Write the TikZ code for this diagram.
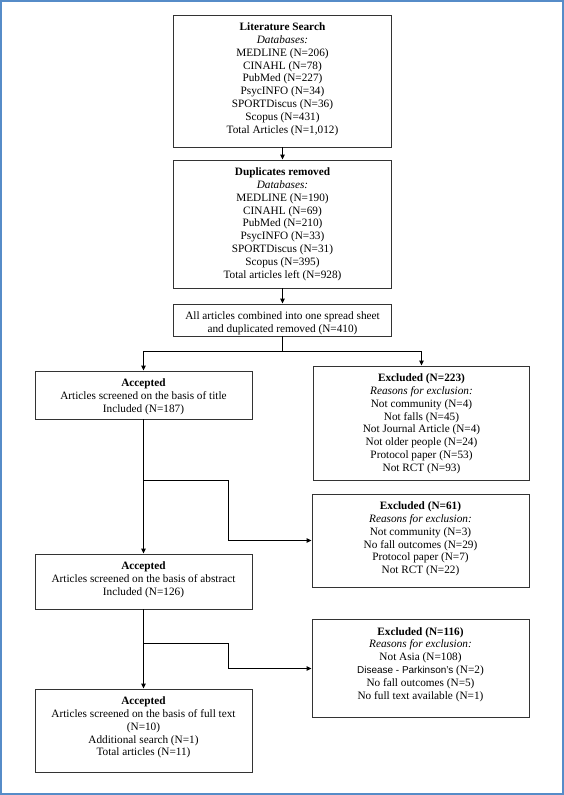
\documentclass[tikz,border=0pt]{standalone}
\usepackage{fontspec}
\setmainfont{Liberation Serif}
\newfontfamily\sansf{Liberation Sans}
\usetikzlibrary{arrows.meta}
\definecolor{frameblue}{RGB}{86,140,200}
\tikzset{
  box/.style={draw=black!80, line width=0.9bp, inner sep=0pt, fill=white},
  txt/.style={anchor=north, align=center, inner sep=0pt, font=\fontsize{11.3}{12.9}\selectfont, yshift=-8bp},
  conn/.style={draw=black, line width=1.3bp},
  arr/.style={conn, -{Triangle[length=5bp,width=4.5bp]}},
}
\begin{document}
\begin{tikzpicture}[x=1bp,y=-1bp]
\useasboundingbox (0,0) rectangle (564,795);
\fill[white] (0,0) rectangle (564,795);
\draw[frameblue, line width=2bp] (1,1) rectangle (563,794);

% boxes
\node[box, minimum width=218bp, minimum height=132bp] (b1) at (282.5,81) {};
\node[box, minimum width=218bp, minimum height=128bp] (b2) at (282.5,224) {};
\node[box, minimum width=218bp, minimum height=32bp] (b3) at (282.5,320) {};
\node[box, minimum width=217bp, minimum height=48bp] (b4) at (143.5,395) {};
\node[box, minimum width=216bp, minimum height=114bp] (b5) at (421.5,423) {};
\node[box, minimum width=217bp, minimum height=55bp] (b6) at (143.5,581.5) {};
\node[box, minimum width=217bp, minimum height=93bp] (b7) at (420.5,540.5) {};
\node[box, minimum width=217bp, minimum height=98bp] (b8) at (420.5,668.5) {};
\node[box, minimum width=217bp, minimum height=83bp] (b9) at (143.5,730.5) {};

% texts
\node[txt] (t1) at (b1.north) {\textbf{Literature Search}\\\textit{Databases:}\\MEDLINE (N=206)\\CINAHL (N=78)\\PubMed (N=227)\\PsycINFO (N=34)\\SPORTDiscus (N=36)\\Scopus (N=431)\\Total Articles (N=1,012)};
\node[txt] (t2) at (b2.north) {\textbf{Duplicates removed}\\\textit{Databases:}\\MEDLINE (N=190)\\CINAHL (N=69)\\PubMed (N=210)\\PsycINFO (N=33)\\SPORTDiscus (N=31)\\Scopus (N=395)\\Total articles left (N=928)};
\node[txt] (t3) at (b3.north) {All articles combined into one spread sheet\\and duplicated removed (N=410)};
\node[txt] (t4) at (b4.north) {\textbf{Accepted}\\Articles screened on the basis of title\\Included (N=187)};
\node[txt] (t5) at (b5.north) {\textbf{Excluded (N=223)}\\\textit{Reasons for exclusion:}\\Not community (N=4)\\Not falls (N=45)\\Not Journal Article (N=4)\\Not older people (N=24)\\Protocol paper (N=53)\\Not RCT (N=93)};
\node[txt] (t6) at (b6.north) {\textbf{Accepted}\\Articles screened on the basis of abstract\\Included (N=126)};
\node[txt] (t7) at (b7.north) {\textbf{Excluded (N=61)}\\\textit{Reasons for exclusion:}\\Not community (N=3)\\No fall outcomes (N=29)\\Protocol paper (N=7)\\Not RCT (N=22)};
\node[txt] (t8) at (b8.north) {\textbf{Excluded (N=116)}\\\textit{Reasons for exclusion:}\\Not Asia (N=108)\\{\sansf\fontsize{10}{12.9}\selectfont Disease - Parkinson’s} (N=2)\\No fall outcomes (N=5)\\No full text available (N=1)};
\node[txt] (t9) at (b9.north) {\textbf{Accepted}\\Articles screened on the basis of full text\\(N=10)\\Additional search (N=1)\\Total articles (N=11)};

% connectors
\coordinate (s1) at (282.5,351.5);
\coordinate (sL) at (143.5,351.5);
\coordinate (sR) at (421.5,351.5);
\coordinate (j1) at (143.5,480.5);
\coordinate (k1) at (228.5,480.5);
\coordinate (j2) at (143.5,643.5);
\coordinate (k2) at (228.5,643.5);

\draw[arr] (b1.south) -- (b2.north);
\draw[arr] (b2.south) -- (b3.north);
\draw[conn] (b3.south) -- (s1);
\draw[arr] (s1) -- (sL) -- (b4.north);
\draw[arr] (s1) -- (sR) -- (b5.north);
\draw[arr] (b4.south) -- (b6.north);
\draw[arr] (j1) -- (k1) |- (b7.west);
\draw[arr] (b6.south) -- (b9.north);
\draw[arr] (j2) -- (k2) |- (b8.west);
\end{tikzpicture}
\end{document}
